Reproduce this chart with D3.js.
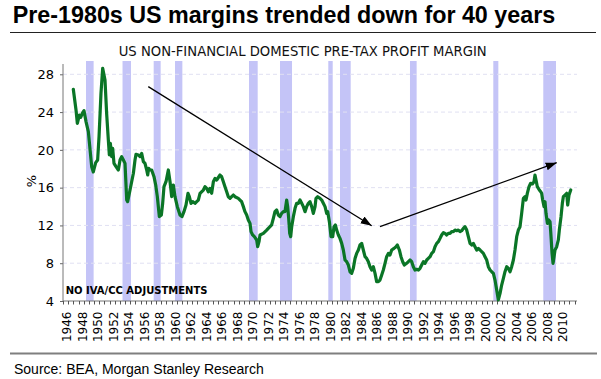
<!DOCTYPE html>
<html><head><meta charset="utf-8">
<script src="https://cdn.jsdelivr.net/npm/d3@7"></script>
<style>body{margin:0;background:#fff} svg{display:block}</style>
</head><body>
<svg id="chart" width="601" height="379"></svg>
<script>
// ---------- data ----------
const titleText = "Pre-1980s US margins trended down for 40 years";
const subtitleText = "US NON-FINANCIAL DOMESTIC PRE-TAX PROFIT MARGIN";
const noteText = "NO IVA/CC ADJUSTMENTS";
const sourceText = "Source: BEA, Morgan Stanley Research";
const yLabel = "%";
const yTicks = [4, 8, 12, 16, 20, 24, 28];
const xLabels = d3.range(1946, 2011, 2);

// recession bands (start / end, decimal years)
const recStart = [1948.97, 1953.68, 1957.70, 1960.45, 1970.00, 1974.00, 1980.23, 1981.74, 1990.77, 2001.52, 2007.97];
const recEnd   = [1949.95, 1954.77, 1958.60, 1961.40, 1971.12, 1975.55, 1980.80, 1983.12, 1991.63, 2002.17, 2009.61];

// profit margin series (decimal year, %)
const dates = [
  1947.33,1947.68,1947.85,1948.11,1948.28,1948.54,1948.71,1948.97,1949.27,1949.70,
  1949.91,1950.22,1950.47,1950.65,1950.90,1951.12,1951.42,1951.63,1951.85,1951.98,
  1952.11,1952.28,1952.41,1952.58,1952.84,1953.14,1953.36,1953.57,1953.79,1954.00,
  1954.22,1954.34,1954.65,1954.86,1955.08,1955.29,1955.42,1955.72,1955.94,1956.15,
  1956.37,1956.58,1956.80,1956.93,1957.05,1957.23,1957.44,1957.74,1957.96,1958.17,
  1958.43,1958.69,1958.86,1959.03,1959.29,1959.59,1959.81,1960.02,1960.24,1960.45,
  1960.75,1961.10,1961.35,1961.61,1961.87,1962.13,1962.30,1962.52,1962.73,1963.03,
  1963.25,1963.46,1963.68,
  1964.11,1964.32,1964.54,1964.75,1964.97,1965.18,1965.40,1965.61,1965.83,1966.26,
  1966.47,1966.69,1966.90,1967.12,1967.33,1967.55,1967.76,1967.98,1968.19,1968.62,
  1968.84,1969.05,1969.27,1969.48,1969.70,1969.91,1970.13,1970.26,1970.47,1970.69,
  1970.99,1971.12,1971.29,1971.42,1971.85,1972.28,1972.49,1972.71,1972.92,1973.14,
  1973.35,1973.57,1973.78,1974.00,1974.21,1974.43,1974.64,1974.86,1974.99,1975.12,
  1975.25,1975.38,1975.51,1975.72,1975.94,1976.15,1976.37,1976.58,1976.80,1977.01,
  1977.23,1977.44,1977.66,1977.87,1978.09,1978.30,1978.52,1978.64,1978.86,1979.16,
  1979.38,1979.59,1979.81,1980.02,1980.15,1980.37,1980.58,1980.80,1980.97,1981.14,
  1981.31,1981.53,1981.74,1981.96,1982.17,1982.39,1982.60,1982.82,1983.03,1983.25,
  1983.46,1983.68,1983.89,1984.11,1984.32,1984.54,1984.75,1984.97,1985.18,1985.40,
  1985.61,1985.83,1986.04,1986.26,1986.47,1986.69,1986.90,1987.12,1987.33,1987.55,
  1987.76,1987.98,1988.19,1988.41,1988.71,1988.97,1989.14,1989.40,1989.61,1989.83,
  1990.04,1990.34,1990.56,1990.77,
  1990.99,1991.20,1991.42,1991.64,1991.85,1992.07,1992.28,1992.50,1992.71,1992.93,
  1993.14,1993.36,1993.57,1993.79,1994.00,1994.22,1994.43,1994.65,1994.86,1995.08,
  1995.29,1995.51,1995.72,1995.94,1996.15,1996.37,1996.58,1996.80,1997.01,1997.23,
  1997.44,1997.66,1997.87,1998.09,1998.30,1998.52,1998.73,1998.95,1999.16,1999.38,
  1999.59,1999.81,2000.02,2000.24,2000.45,2000.67,2000.88,2001.10,2001.31,2001.53,
  2001.74,2001.96,2002.17,2002.39,2002.60,2002.82,2003.03,2003.25,2003.46,2003.68,
  2003.89,2004.11,2004.32,2004.54,2004.75,2004.97,2005.18,2005.40,2005.61,2005.74,
  2005.91,2006.13,2006.34,2006.56,2006.77,2006.90,2007.03,2007.20,2007.46,2007.64,
  2007.76,2007.89,2008.07,2008.19,2008.32,2008.50,2008.67,2008.84,2008.97,2009.10,
  2009.23,2009.36,2009.48,2009.70,2009.91,2010.04,2010.26,2010.43,2010.56,2010.77,
  2010.99,2011.12,2011.29,2011.51
];
const margin = [
  26.41,24.22,22.81,23.69,23.44,23.94,24.15,22.99,21.93,18.22,
  17.66,18.65,18.93,21.40,25.98,28.63,27.40,23.87,21.04,19.46,
  20.69,19.28,20.16,18.57,18.22,17.87,18.93,19.28,18.93,18.57,
  14.69,14.52,15.75,16.63,17.52,18.93,19.53,19.46,19.28,19.63,
  18.75,18.57,17.87,17.34,18.05,17.87,17.87,17.16,16.28,15.05,
  12.93,13.11,14.34,16.10,16.63,17.87,16.63,15.05,16.28,15.05,
  13.99,13.11,12.93,13.46,14.16,15.40,15.05,14.34,14.52,14.34,
  14.52,14.69,15.40,
  15.75,16.10,15.93,15.57,15.93,15.40,16.63,16.98,16.81,17.34,
  17.16,16.63,16.10,15.57,15.04,14.87,15.04,15.22,15.04,14.87,
  14.69,14.51,13.99,13.46,13.10,12.58,12.22,11.34,10.99,10.81,
  10.46,9.75,10.28,10.99,11.16,11.51,11.69,11.87,12.05,12.75,
  13.46,13.63,13.10,12.93,13.28,13.46,13.46,14.69,13.99,12.75,
  11.16,10.81,11.87,12.93,13.81,14.34,14.34,14.69,14.34,13.99,
  13.46,13.99,14.34,14.51,13.99,13.28,13.99,14.87,15.04,14.87,
  14.69,14.34,13.99,13.28,13.46,12.40,10.81,10.81,11.87,12.05,
  11.51,10.99,10.63,10.10,9.40,8.34,8.16,7.81,7.10,6.93,
  7.46,8.51,9.04,9.40,9.93,10.10,9.40,8.69,8.51,8.16,
  7.63,7.28,7.63,6.93,6.05,6.05,6.22,6.75,7.28,7.99,
  8.69,9.04,8.87,9.40,9.57,9.75,9.93,9.40,8.69,8.16,
  7.81,7.99,8.16,8.34,
  8.16,7.63,7.28,7.35,7.28,7.46,7.81,8.16,7.99,8.34,
  8.51,8.69,9.04,9.22,9.75,10.10,10.28,10.63,10.99,11.24,
  11.16,10.99,11.16,11.16,11.34,11.34,11.51,11.44,11.51,11.34,
  11.44,11.69,11.87,11.51,10.81,10.10,9.93,10.10,9.75,9.40,
  9.57,9.40,9.22,9.04,8.69,8.34,7.63,7.28,7.10,6.93,
  6.22,5.16,4.11,4.81,5.69,6.40,7.10,7.63,7.46,7.10,
  7.63,8.34,9.40,10.81,11.51,11.87,13.28,14.87,15.04,14.69,
  15.40,16.10,16.46,16.39,16.63,17.34,16.81,16.10,15.75,15.57,
  15.40,14.69,13.99,14.51,13.28,12.22,12.58,12.40,10.81,9.04,
  7.99,8.69,9.40,9.75,10.46,11.51,12.93,14.34,15.04,15.22,
  15.40,14.16,15.22,15.75
];

// trend arrows (year, %)
const arrowFrom = [[1957.0, 26.69], [1986.9, 11.87]];
const arrowTo   = [[1985.83, 11.97], [2009.7, 18.64]];

// ---------- layout ----------
const svg = d3.select("#chart");
const left = 63, right = 577, bottom = 301, plotTop = 61;
const x = d3.scaleLinear().domain([1946, 2012.32]).range([left, right]);
const y = d3.scaleLinear().domain([4, 28]).range([bottom, 74.3]);

// title
svg.append("text").attr("x", 12.7).attr("y", 22.5)
  .attr("font-family", "Liberation Sans, Arial, sans-serif").attr("font-weight", "bold")
  .attr("font-size", 23.3).attr("fill", "#000").text(titleText);
svg.append("line").attr("x1", 10).attr("x2", 596).attr("y1", 32.5).attr("y2", 32.5)
  .attr("stroke", "#222").attr("stroke-width", 1.2);

// subtitle
svg.append("text").attr("x", 302.7).attr("y", 56).attr("text-anchor", "middle")
  .attr("font-family", "DejaVu Sans, Verdana, sans-serif").attr("font-size", 13.2)
  .attr("fill", "#111").text(subtitleText);

// recession bands
svg.append("g").selectAll("rect").data(recStart.map((s, i) => [s, recEnd[i]])).join("rect")
  .attr("x", d => x(d[0])).attr("width", d => x(d[1]) - x(d[0]))
  .attr("y", plotTop).attr("height", bottom - plotTop)
  .attr("fill", "#c4c4f7");

// gridlines
svg.append("g").selectAll("line").data(yTicks.filter(v => v > 4)).join("line")
  .attr("x1", left).attr("x2", right).attr("y1", d => y(d)).attr("y2", d => y(d))
  .attr("stroke", "#e0e0f2").attr("stroke-width", 1).attr("stroke-dasharray", "4,3");

// y axis
const yAxis = svg.append("g").attr("transform", `translate(${left},0)`)
  .call(d3.axisLeft(y).tickValues(yTicks).tickSize(3).tickSizeOuter(0).tickPadding(6));
yAxis.select(".domain").remove();
yAxis.selectAll(".tick line").attr("stroke", "#666");
yAxis.selectAll(".tick text").attr("font-family", "DejaVu Sans, Verdana, sans-serif")
  .attr("font-size", 13).attr("fill", "#000");
svg.append("line").attr("x1", left).attr("x2", left).attr("y1", 64).attr("y2", bottom)
  .attr("stroke", "#777").attr("stroke-width", 1);

svg.append("text").attr("transform", "translate(31,181) rotate(-90)")
  .attr("text-anchor", "middle").attr("dy", "0.35em")
  .attr("font-family", "DejaVu Sans, Verdana, sans-serif").attr("font-size", 13)
  .text(yLabel);

// x axis
svg.append("line").attr("x1", left).attr("x2", right).attr("y1", bottom).attr("y2", bottom)
  .attr("stroke", "#777").attr("stroke-width", 1);
const tickYears = d3.range(0, 100).map(k => 1946 + k * 2 / 3).filter(t => t <= 2012.32);
svg.append("g").selectAll("line").data(tickYears).join("line")
  .attr("x1", d => Math.round(x(d)) + 0.5).attr("x2", d => Math.round(x(d)) + 0.5)
  .attr("y1", bottom).attr("y2", bottom + 3.5)
  .attr("stroke", "#555").attr("stroke-width", 1);
svg.append("g").selectAll("text").data(xLabels).join("text")
  .attr("transform", d => `translate(${x(d + 0.5)},311.5) rotate(-90)`)
  .attr("text-anchor", "end").attr("dy", "0.35em")
  .attr("font-family", "DejaVu Sans, Verdana, sans-serif").attr("font-size", 12)
  .attr("fill", "#000").text(d => d);

// note
svg.append("text").attr("x", 65.7).attr("y", 294)
  .attr("font-family", "DejaVu Sans, Verdana, sans-serif").attr("font-weight", "bold")
  .attr("font-size", 10).attr("fill", "#000").text(noteText);

// series line
const pts = dates.map((d, i) => [d, margin[i]]);
svg.append("path").datum(pts)
  .attr("d", d3.line().x(d => x(d[0])).y(d => y(d[1])))
  .attr("fill", "none").attr("stroke", "#0a7526").attr("stroke-width", 3.2)
  .attr("stroke-linejoin", "round").attr("stroke-linecap", "round");

// arrows
const defs = svg.append("defs");
defs.append("marker").attr("id", "ah").attr("markerUnits", "userSpaceOnUse")
  .attr("markerWidth", 12).attr("markerHeight", 10).attr("refX", 11).attr("refY", 4)
  .attr("orient", "auto")
  .append("path").attr("d", "M0,0 L11,4 L0,8 Z").attr("fill", "#000");
svg.append("g").selectAll("line").data(arrowFrom.map((f, i) => [f, arrowTo[i]])).join("line")
  .attr("x1", d => x(d[0][0])).attr("y1", d => y(d[0][1]))
  .attr("x2", d => x(d[1][0])).attr("y2", d => y(d[1][1]))
  .attr("stroke", "#000").attr("stroke-width", 1.3).attr("marker-end", "url(#ah)");

// footer
svg.append("line").attr("x1", 10).attr("x2", 597).attr("y1", 353.5).attr("y2", 353.5)
  .attr("stroke", "#7f7f7f").attr("stroke-width", 2);
svg.append("text").attr("x", 14).attr("y", 374.3)
  .attr("font-family", "Liberation Sans, Arial, sans-serif").attr("font-size", 14)
  .attr("fill", "#000").text(sourceText);
</script>
</body></html>
